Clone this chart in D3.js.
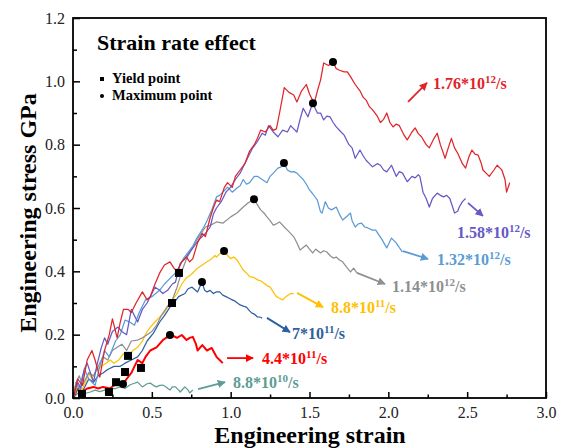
<!DOCTYPE html>
<html><head><meta charset="utf-8">
<script src="https://cdnjs.cloudflare.com/ajax/libs/d3/7.8.5/d3.min.js"></script>
<style>body{margin:0;background:#fff}svg{display:block}</style>
</head><body><svg id="c" width="564" height="448"></svg>
<script>
// ---- data ----
const xTicks = [0, 0.5, 1.0, 1.5, 2.0, 2.5, 3.0];
const yTicks = [0, 0.2, 0.4, 0.6, 0.8, 1.0, 1.2];
const seriesNames = ["1.76e12", "1.58e12", "1.32e12", "1.14e12", "8.8e11", "7e11", "4.4e11", "8.8e10"];
const labelBase = ["1.76*10", "1.58*10", "1.32*10", "1.14*10", "8.8*10", "7*10", "4.4*10", "8.8*10"];
const labelExp = ["12", "12", "12", "12", "11", "11", "11", "10"];
const colors = ["#e0242a", "#6559c6", "#5b9bd5", "#8f8f8f", "#ffc000", "#2e5f9e", "#ff0000", "#5e9c94"];

const curve176 = [[0,0],[0.03,0.06],[0.06,0.04],[0.09,0.12],[0.12,0.15],[0.14,0.12],[0.17,0.066],[0.2,0.15],[0.23,0.2],[0.25,0.25],[0.28,0.19],[0.3,0.24],[0.32,0.28],[0.35,0.28],[0.37,0.27],[0.4,0.3],[0.44,0.335],[0.47,0.31],[0.49,0.32],[0.52,0.36],[0.55,0.395],[0.58,0.42],[0.615,0.43],[0.64,0.41],[0.66,0.40],[0.69,0.43],[0.72,0.445],[0.74,0.43],[0.76,0.44],[0.79,0.49],[0.82,0.52],[0.84,0.51],[0.87,0.57],[0.89,0.6],[0.91,0.625],[0.93,0.62],[0.96,0.665],[0.98,0.68],[1.01,0.665],[1.03,0.7],[1.06,0.72],[1.09,0.74],[1.12,0.78],[1.15,0.8],[1.17,0.82],[1.19,0.846],[1.22,0.84],[1.25,0.86],[1.27,0.845],[1.29,0.85],[1.31,0.9],[1.34,0.98],[1.37,0.965],[1.40,0.957],[1.42,0.935],[1.45,0.97],[1.48,0.99],[1.50,0.96],[1.53,0.93],[1.55,0.97],[1.57,1.004],[1.59,1.058],[1.62,1.05],[1.65,1.06],[1.67,1.04],[1.69,1.035],[1.72,1.03],[1.74,1.03],[1.76,1.015],[1.79,0.99],[1.82,0.97],[1.84,0.95],[1.86,0.94],[1.88,0.92],[1.90,0.91],[1.93,0.89],[1.95,0.87],[1.97,0.88],[1.99,0.90],[2.01,0.87],[2.03,0.856],[2.05,0.865],[2.07,0.86],[2.10,0.83],[2.12,0.815],[2.15,0.84],[2.17,0.853],[2.19,0.835],[2.21,0.825],[2.24,0.80],[2.26,0.79],[2.29,0.82],[2.31,0.836],[2.33,0.80],[2.36,0.757],[2.38,0.79],[2.40,0.82],[2.42,0.79],[2.44,0.773],[2.47,0.74],[2.49,0.726],[2.51,0.76],[2.53,0.783],[2.55,0.77],[2.57,0.767],[2.59,0.74],[2.60,0.72],[2.62,0.71],[2.64,0.70],[2.67,0.72],[2.69,0.735],[2.71,0.725],[2.72,0.72],[2.74,0.69],[2.75,0.65],[2.77,0.68]];
const curve158 = [[0,0],[0.03,0.05],[0.05,0.03],[0.07,0.09],[0.09,0.11],[0.11,0.08],[0.13,0.05],[0.15,0.1],[0.18,0.16],[0.2,0.19],[0.22,0.17],[0.25,0.21],[0.285,0.224],[0.31,0.21],[0.34,0.2],[0.37,0.28],[0.39,0.26],[0.41,0.24],[0.44,0.28],[0.47,0.30],[0.5,0.33],[0.52,0.35],[0.55,0.34],[0.57,0.33],[0.6,0.34],[0.63,0.36],[0.65,0.366],[0.68,0.425],[0.71,0.44],[0.74,0.46],[0.77,0.48],[0.80,0.50],[0.84,0.52],[0.87,0.54],[0.89,0.58],[0.91,0.60],[0.94,0.62],[0.97,0.65],[1.0,0.666],[1.03,0.69],[1.06,0.71],[1.08,0.73],[1.11,0.76],[1.14,0.79],[1.17,0.81],[1.20,0.836],[1.22,0.83],[1.24,0.86],[1.27,0.84],[1.30,0.825],[1.33,0.846],[1.36,0.84],[1.38,0.86],[1.40,0.85],[1.42,0.84],[1.44,0.88],[1.46,0.915],[1.49,0.888],[1.52,0.931],[1.55,0.90],[1.57,0.90],[1.59,0.878],[1.61,0.89],[1.63,0.888],[1.65,0.87],[1.67,0.856],[1.70,0.84],[1.72,0.83],[1.75,0.80],[1.77,0.79],[1.79,0.757],[1.82,0.783],[1.84,0.765],[1.86,0.75],[1.88,0.74],[1.90,0.73],[1.93,0.74],[1.95,0.735],[1.97,0.72],[1.99,0.714],[2.02,0.735],[2.05,0.70],[2.07,0.715],[2.09,0.71],[2.12,0.683],[2.15,0.70],[2.17,0.695],[2.19,0.705],[2.20,0.70],[2.22,0.65],[2.24,0.63],[2.26,0.603],[2.28,0.63],[2.31,0.647],[2.33,0.64],[2.35,0.635],[2.37,0.64],[2.39,0.63],[2.41,0.60],[2.42,0.584],[2.44,0.59],[2.45,0.603],[2.47,0.62],[2.49,0.63]];
const curve132 = [[0,0],[0.02,0.05],[0.04,0.03],[0.06,0.07],[0.076,0.088],[0.1,0.06],[0.14,0.04],[0.17,0.1],[0.2,0.15],[0.23,0.13],[0.27,0.18],[0.3,0.2],[0.33,0.246],[0.36,0.24],[0.39,0.23],[0.42,0.27],[0.46,0.31],[0.5,0.32],[0.55,0.34],[0.58,0.36],[0.62,0.38],[0.66,0.40],[0.7,0.44],[0.73,0.46],[0.76,0.48],[0.78,0.50],[0.805,0.52],[0.83,0.54],[0.85,0.56],[0.88,0.594],[0.91,0.635],[0.93,0.64],[0.96,0.655],[0.98,0.666],[1.01,0.65],[1.04,0.663],[1.06,0.67],[1.08,0.69],[1.10,0.675],[1.12,0.68],[1.15,0.70],[1.17,0.70],[1.20,0.69],[1.23,0.68],[1.25,0.70],[1.27,0.71],[1.30,0.726],[1.32,0.73],[1.338,0.742],[1.36,0.72],[1.38,0.714],[1.40,0.715],[1.42,0.71],[1.44,0.70],[1.46,0.69],[1.48,0.675],[1.50,0.657],[1.52,0.645],[1.55,0.625],[1.57,0.588],[1.58,0.584],[1.60,0.62],[1.62,0.60],[1.64,0.594],[1.67,0.603],[1.69,0.58],[1.71,0.562],[1.74,0.575],[1.76,0.584],[1.77,0.56],[1.79,0.54],[1.81,0.55],[1.83,0.552],[1.85,0.54],[1.87,0.537],[1.90,0.53],[1.92,0.53],[1.94,0.515],[1.96,0.50],[1.99,0.474],[2.02,0.505],[2.05,0.49],[2.07,0.475],[2.09,0.461]];
const curve114 = [[0,0],[0.02,0.05],[0.04,0.07],[0.06,0.04],[0.08,0.06],[0.1,0.08],[0.13,0.07],[0.16,0.1],[0.19,0.13],[0.22,0.12],[0.25,0.15],[0.28,0.16],[0.31,0.17],[0.34,0.15],[0.37,0.18],[0.41,0.183],[0.44,0.19],[0.47,0.2],[0.5,0.21],[0.53,0.23],[0.56,0.26],[0.6,0.29],[0.63,0.31],[0.66,0.35],[0.69,0.4],[0.72,0.44],[0.76,0.477],[0.8,0.51],[0.84,0.54],[0.87,0.545],[0.91,0.556],[0.95,0.552],[1.0,0.572],[1.04,0.584],[1.08,0.603],[1.11,0.616],[1.148,0.628],[1.17,0.61],[1.19,0.594],[1.21,0.585],[1.23,0.572],[1.25,0.56],[1.27,0.546],[1.29,0.55],[1.31,0.556],[1.34,0.54],[1.36,0.53],[1.38,0.52],[1.40,0.509],[1.42,0.49],[1.44,0.467],[1.46,0.475],[1.48,0.483],[1.50,0.47],[1.52,0.458],[1.54,0.47],[1.57,0.458],[1.59,0.465],[1.61,0.461],[1.63,0.45],[1.65,0.442],[1.67,0.445],[1.69,0.436],[1.71,0.43],[1.74,0.41],[1.76,0.398],[1.78,0.41],[1.80,0.395]];
const curve88e11 = [[0,0],[0.03,0.04],[0.05,0.02],[0.08,0.05],[0.1,0.08],[0.12,0.06],[0.15,0.09],[0.18,0.1],[0.21,0.11],[0.235,0.12],[0.26,0.11],[0.29,0.12],[0.32,0.14],[0.35,0.13],[0.38,0.15],[0.41,0.16],[0.44,0.18],[0.47,0.21],[0.49,0.224],[0.52,0.24],[0.55,0.256],[0.58,0.27],[0.60,0.287],[0.63,0.31],[0.66,0.33],[0.69,0.36],[0.72,0.38],[0.75,0.39],[0.79,0.41],[0.82,0.42],[0.85,0.43],[0.88,0.44],[0.90,0.45],[0.91,0.445],[0.93,0.455],[0.958,0.464],[0.98,0.45],[1.0,0.44],[1.02,0.445],[1.04,0.436],[1.06,0.42],[1.08,0.404],[1.10,0.395],[1.12,0.383],[1.15,0.38],[1.17,0.373],[1.19,0.37],[1.21,0.363],[1.23,0.355],[1.25,0.35],[1.27,0.335],[1.29,0.32],[1.31,0.315],[1.33,0.31],[1.35,0.32],[1.38,0.33],[1.40,0.33]];
const curve7e11 = [[0,0],[0.03,0.03],[0.05,0.01],[0.08,0.04],[0.1,0.06],[0.13,0.05],[0.16,0.07],[0.19,0.079],[0.22,0.09],[0.26,0.1],[0.3,0.1],[0.33,0.11],[0.37,0.12],[0.41,0.13],[0.44,0.15],[0.47,0.18],[0.51,0.205],[0.55,0.24],[0.58,0.26],[0.615,0.287],[0.64,0.3],[0.67,0.32],[0.71,0.33],[0.73,0.345],[0.755,0.35],[0.79,0.335],[0.818,0.366],[0.835,0.34],[0.85,0.335],[0.87,0.34],[0.89,0.33],[0.91,0.335],[0.93,0.335],[0.95,0.325],[0.97,0.32],[0.99,0.315],[1.01,0.31],[1.03,0.305],[1.06,0.294],[1.08,0.29],[1.10,0.287],[1.12,0.275],[1.135,0.268],[1.15,0.265],[1.17,0.256],[1.19,0.255],[1.20,0.252]];
const curve44e11 = [[0,0],[0.03,0.03],[0.06,0.02],[0.09,0.03],[0.13,0.035],[0.16,0.03],[0.19,0.035],[0.235,0.03],[0.26,0.04],[0.285,0.041],[0.317,0.044],[0.34,0.06],[0.37,0.079],[0.39,0.1],[0.41,0.12],[0.44,0.11],[0.46,0.13],[0.49,0.15],[0.53,0.16],[0.57,0.183],[0.59,0.19],[0.615,0.199],[0.64,0.195],[0.66,0.19],[0.69,0.199],[0.72,0.183],[0.74,0.19],[0.76,0.193],[0.78,0.17],[0.79,0.15],[0.82,0.167],[0.85,0.15],[0.88,0.158],[0.91,0.13],[0.93,0.12],[0.95,0.11]];
const curve88e10 = [[0,0],[0.03,0.015],[0.06,0.02],[0.08,0.015],[0.11,0.019],[0.14,0.025],[0.17,0.02],[0.2,0.025],[0.24,0.03],[0.27,0.03],[0.30,0.035],[0.33,0.03],[0.36,0.041],[0.38,0.045],[0.41,0.05],[0.43,0.04],[0.44,0.035],[0.47,0.045],[0.49,0.047],[0.51,0.04],[0.53,0.035],[0.55,0.04],[0.57,0.041],[0.59,0.035],[0.615,0.025],[0.63,0.035],[0.65,0.035],[0.67,0.025],[0.68,0.019],[0.70,0.03],[0.71,0.035],[0.73,0.025],[0.74,0.016],[0.76,0.025]];
const curves = [curve176, curve158, curve132, curve114, curve88e11, curve7e11, curve44e11, curve88e10];

const yieldPoints = [[0.057,0.013],[0.228,0.019],[0.273,0.05],[0.33,0.082],[0.349,0.133],[0.431,0.095],[0.628,0.30],[0.672,0.395]];
const maxPoints = [[1.649,1.061],[1.522,0.931],[1.338,0.742],[1.148,0.628],[0.958,0.464],[0.818,0.366],[0.615,0.199],[0.317,0.044]];

// annotation anchors (data coords): label start, arrow from, arrow to
const labelAt = [[2.283,0.976],[2.435,0.505],[2.309,0.42],[2.023,0.335],[1.636,0.268],[1.389,0.186],[1.199,0.107],[1.015,0.032]];
const arrowFrom = [[2.125,0.935],[2.505,0.616],[2.093,0.464],[1.801,0.395],[1.421,0.332],[1.23,0.253],[0.977,0.126],[0.793,0.028]];
const arrowTo = [[2.245,0.995],[2.60,0.575],[2.252,0.439],[1.979,0.36],[1.586,0.287],[1.376,0.208],[1.142,0.126],[0.964,0.05]];

// ---- chart ----
const svg = d3.select("#c");
const L = 73, R = 546, T = 18, B = 398;
const x = d3.scaleLinear().domain([0, 3]).range([L, R]);
const y = d3.scaleLinear().domain([0, 1.2]).range([B, T]);
const serif = "'Liberation Serif','Times New Roman',serif";

// curves
const line = d3.line().x(d => x(d[0])).y(d => y(d[1]));
const order = [7, 6, 5, 4, 3, 2, 1, 0];
order.forEach(i => {
  svg.append("path").attr("d", line(curves[i])).attr("fill", "none")
    .attr("stroke", colors[i]).attr("stroke-width", i === 6 ? 2 : 1.25)
    .attr("stroke-linejoin", "round");
});

// markers
svg.selectAll("rect.yp").data(yieldPoints).enter().append("rect")
  .attr("x", d => x(d[0]) - 4).attr("y", d => y(d[1]) - 4)
  .attr("width", 8).attr("height", 8).attr("fill", "#000");
svg.selectAll("circle.mp").data(maxPoints).enter().append("circle")
  .attr("cx", d => x(d[0])).attr("cy", d => y(d[1])).attr("r", 4).attr("fill", "#000");

// arrows + labels
const defs = svg.append("defs");
colors.forEach((c, i) => {
  defs.append("marker").attr("id", "ah" + i).attr("viewBox", "0 0 10 10")
    .attr("refX", 9).attr("refY", 5).attr("markerWidth", 4.5).attr("markerHeight", 4.5)
    .attr("orient", "auto").append("path").attr("d", "M0,0L10,5L0,10z").attr("fill", c);
});
labelBase.forEach((b, i) => {
  svg.append("line").attr("x1", x(arrowFrom[i][0])).attr("y1", y(arrowFrom[i][1]))
    .attr("x2", x(arrowTo[i][0])).attr("y2", y(arrowTo[i][1]))
    .attr("stroke", colors[i]).attr("stroke-width", 1.8).attr("marker-end", "url(#ah" + i + ")");
  const t = svg.append("text").attr("x", x(labelAt[i][0])).attr("y", y(labelAt[i][1]))
    .attr("font-family", serif).attr("font-weight", "bold").attr("font-size", 16)
    .attr("fill", colors[i]);
  t.append("tspan").text(b);
  t.append("tspan").attr("dy", -6).attr("font-size", 11).text(labelExp[i]);
  t.append("tspan").attr("dy", 6).text("/s");
});

// axes
svg.append("g").attr("transform", `translate(0,${B})`)
  .call(d3.axisBottom(x).tickValues(xTicks).tickFormat(d3.format(".1f")).tickSizeInner(-6).tickSizeOuter(0).tickPadding(9));
svg.append("g").attr("transform", `translate(0,${B})`)
  .call(d3.axisBottom(x).tickValues(d3.range(0.25, 3, 0.5)).tickFormat("").tickSizeInner(-3.5).tickSizeOuter(0));
svg.append("g").attr("transform", `translate(${L},0)`)
  .call(d3.axisLeft(y).tickValues(yTicks).tickFormat(d3.format(".1f")).tickSizeInner(-7).tickSizeOuter(0).tickPadding(8));
svg.append("g").attr("transform", `translate(${L},0)`)
  .call(d3.axisLeft(y).tickValues(d3.range(0.1, 1.2, 0.2)).tickFormat("").tickSizeInner(-4).tickSizeOuter(0));
svg.selectAll(".domain").remove();
svg.selectAll(".tick line").attr("stroke", "#000").attr("stroke-width", 1.5);
svg.selectAll(".tick text").attr("font-family", serif).attr("font-size", 16).attr("fill", "#222");
svg.append("rect").attr("x", L).attr("y", T).attr("width", R - L).attr("height", B - T)
  .attr("fill", "none").attr("stroke", "#000").attr("stroke-width", 1.8);

// titles
svg.append("text").attr("x", (L + R) / 2 + 0.5).attr("y", 443).attr("text-anchor", "middle")
  .attr("font-family", serif).attr("font-weight", "bold").attr("font-size", 24).text("Engineering strain");
svg.append("text").attr("transform", "translate(36,213) rotate(-90)").attr("text-anchor", "middle")
  .attr("font-family", serif).attr("font-weight", "bold").attr("font-size", 24).text("Engineering stress GPa");
svg.append("text").attr("x", 97).attr("y", 50).attr("font-family", serif).attr("font-weight", "bold")
  .attr("font-size", 22).text("Strain rate effect");
svg.append("rect").attr("x", 100).attr("y", 77).attr("width", 4).attr("height", 4).attr("fill", "#000");
svg.append("circle").attr("cx", 102).attr("cy", 96).attr("r", 2).attr("fill", "#000");
svg.append("text").attr("x", 112).attr("y", 83).attr("font-family", serif).attr("font-weight", "bold")
  .attr("font-size", 14.5).text("Yield point");
svg.append("text").attr("x", 112).attr("y", 100).attr("font-family", serif).attr("font-weight", "bold")
  .attr("font-size", 14.5).text("Maximum point");
</script></body></html>
